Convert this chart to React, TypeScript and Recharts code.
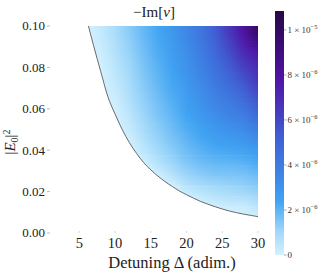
import React from 'react';
import { ComposedChart, Area, XAxis, YAxis, BarChart, Bar } from 'recharts';

const serif = "'Liberation Serif', 'DejaVu Serif', serif";

const deltaCols = [6, 8, 10, 12, 14, 16, 18, 20, 22, 24, 26, 28, 30];
// |E0|^2 at the centre of each read-off row, bottom to top
const rowCenters = [0.0025, 0.0075, 0.0125, 0.0175, 0.0225, 0.0275, 0.0325, 0.0375, 0.0425, 0.0475,
  0.0525, 0.0575, 0.0625, 0.0675, 0.0725, 0.0775, 0.0825, 0.0875, 0.0925, 0.0975];
// -Im[v] in units of 1e-6, one row per centre (bottom to top), one value per deltaCols entry
const heatRows = [
  [0, 0, 0, 0, 0, 0, 0, 0, 0, 0, 0, 0, 0],
  [0, 0, 0, 0, 0, 0, 0, 0, 0, 0, 0, 0, 0.1],
  [0, 0, 0, 0, 0, 0, 0, 0, 0, 0.05, 0.17, 0.19, 0.55],
  [0, 0, 0, 0, 0, 0, 0, 0.05, 0.35, 0.6, 0.7, 0.8, 1.0],
  [0, 0, 0, 0, 0, 0, 0, 0.6, 0.85, 1.0, 1.1, 1.2, 1.4],
  [0, 0, 0, 0, 0, 0, 0.6, 1.05, 1.3, 1.45, 1.5, 1.55, 1.75],
  [0, 0, 0, 0, 0, 0.55, 1.0, 1.4, 1.65, 1.8, 1.85, 1.9, 2.15],
  [0, 0, 0, 0, 0.35, 0.85, 1.25, 1.65, 1.95, 2.1, 2.2, 2.3, 2.55],
  [0, 0, 0, 0, 0.6, 1.05, 1.45, 1.85, 2.15, 2.4, 2.55, 2.7, 3.0],
  [0, 0, 0, 0.2, 0.8, 1.25, 1.65, 2.05, 2.4, 2.7, 2.9, 3.1, 3.6],
  [0, 0, 0, 0.38, 0.95, 1.4, 1.8, 2.25, 2.6, 3.0, 3.25, 3.55, 4.2],
  [0, 0, 0, 0.52, 1.08, 1.55, 1.95, 2.4, 2.85, 3.25, 3.65, 4.0, 4.8],
  [0, 0, 0.13, 0.65, 1.2, 1.65, 2.1, 2.55, 3.05, 3.55, 4.0, 4.5, 5.3],
  [0, 0, 0.24, 0.77, 1.31, 1.78, 2.21, 2.71, 3.22, 3.81, 4.36, 4.99, 5.9],
  [0, 0, 0.35, 0.88, 1.41, 1.89, 2.33, 2.85, 3.4, 4.07, 4.72, 5.48, 6.4],
  [0, 0, 0.46, 0.98, 1.51, 1.99, 2.44, 2.98, 3.57, 4.32, 5.09, 5.98, 6.8],
  [0, 0.08, 0.56, 1.08, 1.6, 2.09, 2.55, 3.1, 3.75, 4.57, 5.45, 6.49, 7.2],
  [0, 0.17, 0.66, 1.17, 1.69, 2.18, 2.66, 3.22, 3.91, 4.81, 5.81, 7.0, 7.8],
  [0, 0.26, 0.76, 1.27, 1.78, 2.27, 2.76, 3.34, 4.07, 5.05, 6.16, 7.51, 8.9],
  [0, 0.35, 0.85, 1.36, 1.86, 2.36, 2.85, 3.45, 4.22, 5.28, 6.52, 8.04, 9.9],
];
// lower edge of the filled region (the first point lies above the plotted range)
const edgeDelta = [5, 6, 7, 8, 9, 10, 11, 12, 13, 14, 15, 16, 17, 18, 19, 20, 21, 22, 23, 24, 25, 26, 27, 28, 29, 30];
const edgeE = [0.12, 0.104, 0.0905, 0.078, 0.0658, 0.0575, 0.05, 0.0437, 0.0385, 0.034, 0.0305, 0.0275, 0.0248,
  0.0225, 0.0203, 0.0185, 0.0168, 0.0152, 0.0139, 0.0127, 0.0116, 0.0106, 0.0098, 0.0091, 0.0085, 0.0079];

const xTicks = [5, 10, 15, 20, 25, 30];
const yTicks = [0, 0.02, 0.04, 0.06, 0.08, 0.1];
const barMax = 10.84e-6;
const barTicks = [0, 2e-6, 4e-6, 6e-6, 8e-6, 1e-5];
const barMant = ['0', '2', '4', '6', '8', '1'];
const barExp = ['', '\u22126', '\u22126', '\u22126', '\u22126', '\u22125'];

// colour map stops, value in 1e-6
const cmapVals = [0, 1.0, 2.4, 3.5, 5.2, 6.5, 7.8, 9.2, 10.84];
const cmapCols = ['#d4f1fe', '#a3d9fa', '#40a4f2', '#3e86e6', '#4060d4', '#4838bc', '#5014a6', '#3c0c7a', '#2a0846'];

function hexToRgb(h: string) {
  const n = parseInt(h.slice(1), 16);
  return [(n >> 16) & 255, (n >> 8) & 255, n & 255];
}

function cmap(v: number) {
  const t = Math.max(0, Math.min(v, cmapVals[cmapVals.length - 1]));
  let i = 0;
  while (i < cmapVals.length - 2 && t > cmapVals[i + 1]) i++;
  const f = (t - cmapVals[i]) / (cmapVals[i + 1] - cmapVals[i]);
  const a = hexToRgb(cmapCols[i]);
  const b = hexToRgb(cmapCols[i + 1]);
  return `rgb(${a.map((c, k) => Math.round(c + (b[k] - c) * f)).join(',')})`;
}

const yTop = yTicks[yTicks.length - 1];
// s{r}: solid band from row r's centre up; m{r}: blend band between centres r-1 and r
const chartData = edgeDelta.map((d, i) => {
  const p: { [k: string]: number | number[] | null } = { d, edge: edgeE[i] };
  const inHeat = d >= deltaCols[0];
  heatRows.forEach((_, r) => {
    p[`s${r}`] = inHeat ? [r === 0 ? 0 : rowCenters[r], yTop] : null;
    if (r > 0) p[`m${r}`] = inHeat ? [rowCenters[r - 1], rowCenters[r]] : null;
  });
  return p;
});
const barData = [{ name: 'cb', v: barMax }];

function XTick({ x, payload }: any) {
  return (
    <g>
      <line x1={x} x2={x} y1={231} y2={233} stroke="#ccc" strokeWidth={0.8} />
      <text x={x} y={248} textAnchor="middle" fontFamily={serif} fontSize={14.5} fill="#222">{payload.value}</text>
    </g>
  );
}

function YTick({ y, payload }: any) {
  return (
    <g>
      <text x={45} y={y + 4.3} textAnchor="end" fontFamily={serif} fontSize={13} fill="#222">{payload.value.toFixed(2)}</text>
      <line x1={47} x2={50} y1={y} y2={y} stroke="#aaa" strokeWidth={0.8} />
    </g>
  );
}

function BarTick({ y, index }: any) {
  return (
    <g>
      <line x1={9} x2={11.5} y1={y} y2={y} stroke="#888" strokeWidth={0.7} />
      <text x={12.5} y={y + 3} fontFamily={serif} fontSize={9} fill="#333">
        {barMant[index]}
        {barExp[index] && <> × 10<tspan dy={-3.5} fontSize={6.5}>{barExp[index]}</tspan></>}
      </text>
    </g>
  );
}

export default function App() {
  const span = deltaCols[deltaCols.length - 1] - deltaCols[0];
  const series: React.ReactNode[] = [];
  heatRows.forEach((_, r) => {
    if (r > 0) {
      series.push(
        <Area key={`m${r}`} dataKey={`m${r}`} type="linear" stroke="none" fill={`url(#hrow${r})`}
          fillOpacity={1} mask="url(#fadeUp)" className="blend" dot={false} activeDot={false}
          isAnimationActive={false} />
      );
    }
    series.push(
      <Area key={`s${r}`} dataKey={`s${r}`} type="linear" stroke="none" fill={`url(#hrow${r})`}
        fillOpacity={1} dot={false} activeDot={false} isAnimationActive={false} />
    );
  });

  return (
    <div style={{ position: 'absolute', left: 0, top: 0, width: 325, height: 275, background: '#fff' }}>
      <style>{'.blend .recharts-area-area { mask: url(#fadeUp); }'}</style>
      <svg width={0} height={0} style={{ position: 'absolute' }}>
        <defs>
          {heatRows.map((row, r) => (
            <linearGradient key={r} id={`hrow${r}`} x1="0" y1="0" x2="1" y2="0">
              {row.map((v, c) => (
                <stop key={c} offset={(deltaCols[c] - deltaCols[0]) / span} stopColor={cmap(v)} />
              ))}
            </linearGradient>
          ))}
          <linearGradient id="vfade" x1="0" y1="1" x2="0" y2="0">
            <stop offset="0" stopColor="#fff" stopOpacity={0} />
            <stop offset="1" stopColor="#fff" stopOpacity={1} />
          </linearGradient>
          <mask id="fadeUp" maskContentUnits="objectBoundingBox" style={{ maskType: 'alpha' }}>
            <rect x="0" y="0" width="1" height="1" fill="url(#vfade)" />
          </mask>
          <linearGradient id="cbar" x1="0" y1="1" x2="0" y2="0">
            {cmapVals.map((v, i) => (
              <stop key={i} offset={v / cmapVals[cmapVals.length - 1]} stopColor={cmapCols[i]} />
            ))}
          </linearGradient>
        </defs>
      </svg>

      <div style={{ position: 'absolute', left: 0, top: 0 }}>
        <ComposedChart width={325} height={275} data={chartData} margin={{ top: 26, right: 67, bottom: 0, left: 0 }}>
          <XAxis dataKey="d" type="number" domain={[3, 30]} ticks={xTicks} allowDataOverflow
            height={42} axisLine={false} tickLine={false} tick={<XTick />} />
          <YAxis type="number" domain={[0, 0.1]} ticks={yTicks} allowDataOverflow
            width={65} axisLine={false} tickLine={false} tick={<YTick />} />
          {series}
          <Area dataKey="edge" type="monotone" stroke="#5a5a5a" strokeWidth={0.9} fill="#ffffff"
            fillOpacity={1} dot={false} activeDot={false} isAnimationActive={false} />
        </ComposedChart>
      </div>

      <div style={{ position: 'absolute', left: 275, top: 0 }}>
        <BarChart width={50} height={275} data={barData} barCategoryGap={0}
          margin={{ top: 11, right: 0, bottom: 20, left: 0 }}>
          <XAxis dataKey="name" hide />
          <YAxis orientation="right" type="number" domain={[0, barMax]} ticks={barTicks} allowDataOverflow
            width={41} axisLine={false} tickLine={false} tick={<BarTick />} />
          <Bar dataKey="v" fill="url(#cbar)" isAnimationActive={false} />
        </BarChart>
      </div>

      <svg width={325} height={275} style={{ position: 'absolute', left: 0, top: 0, pointerEvents: 'none' }}>
        <text x={154} y={16.5} textAnchor="middle" fontFamily={serif} fontSize={15} fill="#222">
          {'\u2212Im['}<tspan fontStyle="italic">v</tspan>]
        </text>
        <text x={172} y={268} textAnchor="middle" fontFamily={serif} fontSize={16.5} fill="#222">
          Detuning Δ (adim.)
        </text>
        <text transform="translate(15,142) rotate(-90)" textAnchor="middle" fontFamily={serif} fontSize={15} fill="#222">
          |<tspan fontStyle="italic">E</tspan><tspan fontSize={10} dy={3}>0</tspan><tspan dy={-3}>|</tspan><tspan fontSize={10} dy={-5}>2</tspan>
        </text>
      </svg>
    </div>
  );
}
